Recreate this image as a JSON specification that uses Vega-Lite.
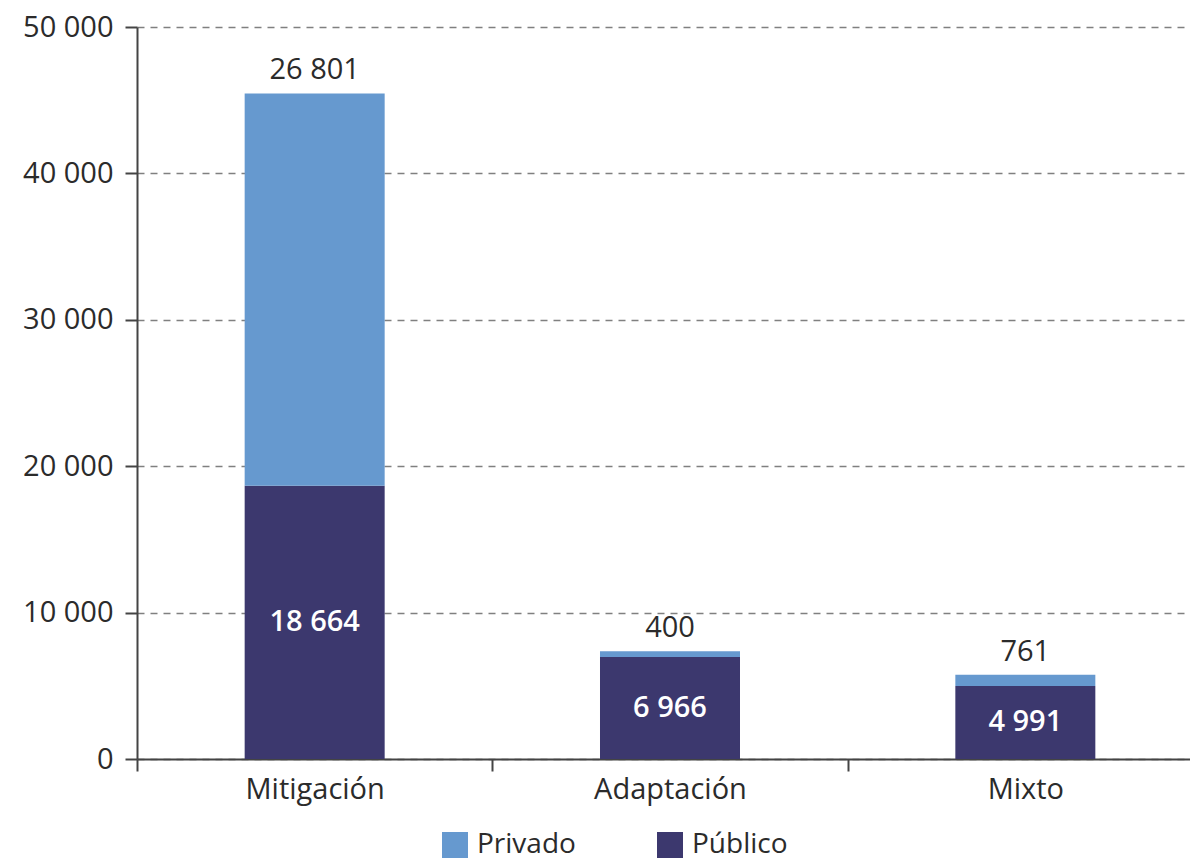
{
  "$schema": "https://vega.github.io/schema/vega-lite/v6.json",
  "width": 1053,
  "height": 732,
  "autosize": {"type": "none"},
  "padding": {"left": 137, "top": 27, "right": 0, "bottom": 103},
  "background": "white",
  "config": {
    "locale": {"number": {"decimal": ",", "thousands": " ", "grouping": [3], "currency": ["", " €"]}},
    "font": "Open Sans",
    "view": {"stroke": null}
  },
  "data": {
    "values": [
      {"categoria": "Mitigación", "tipo": "Público", "valor": 18664},
      {"categoria": "Mitigación", "tipo": "Privado", "valor": 26801},
      {"categoria": "Adaptación", "tipo": "Público", "valor": 6966},
      {"categoria": "Adaptación", "tipo": "Privado", "valor": 400},
      {"categoria": "Mixto", "tipo": "Público", "valor": 4991},
      {"categoria": "Mixto", "tipo": "Privado", "valor": 761}
    ]
  },
  "transform": [
    {"joinaggregate": [{"op": "sum", "field": "valor", "as": "total"}], "groupby": ["categoria"]},
    {"calculate": "datum.valor / 2", "as": "mitad"}
  ],
  "encoding": {
    "x": {
      "field": "categoria",
      "type": "nominal",
      "sort": ["Mitigación", "Adaptación", "Mixto"],
      "scale": {"range": [0, 1066], "paddingInner": 0, "paddingOuter": 0},
      "axis": {
        "title": null,
        "labelAngle": 0,
        "tickBand": "extent",
        "tickSize": 12,
        "tickColor": "#444444",
        "tickWidth": 2,
        "domainColor": "#444444",
        "domainWidth": 2,
        "labelFontSize": 29,
        "labelColor": "#2b2b2b",
        "labelPadding": 4,
        "grid": false
      }
    }
  },
  "layer": [
    {
      "mark": {"type": "bar", "width": {"band": 0.394}},
      "encoding": {
        "y": {
          "field": "valor",
          "type": "quantitative",
          "stack": "zero",
          "scale": {"domain": [0, 50000], "nice": false},
          "axis": {
            "title": null,
            "values": [0, 10000, 20000, 30000, 40000, 50000],
            "format": ",d",
            "domainColor": "#444444",
            "domainWidth": 2,
            "tickColor": "#444444",
            "tickWidth": 2,
            "tickSize": 12,
            "labelFontSize": 29,
            "labelColor": "#2b2b2b",
            "labelPadding": 12,
            "gridColor": "#808080",
            "gridDash": [7, 6],
            "gridWidth": 1.6
          }
        },
        "color": {
          "field": "tipo",
          "type": "nominal",
          "scale": {"domain": ["Privado", "Público"], "range": ["#6699CF", "#3C386E"]},
          "legend": {
            "orient": "none",
            "legendX": 304,
            "legendY": 804,
            "direction": "horizontal",
            "title": null,
            "symbolType": "square",
            "symbolSize": 676,
            "symbolStrokeWidth": 0,
            "labelFontSize": 28,
            "labelColor": "#2b2b2b",
            "labelOffset": 8,
            "columnPadding": 80
          }
        },
        "order": {"field": "tipo", "sort": "descending"}
      }
    },
    {
      "transform": [{"filter": "datum.tipo === 'Privado'"}],
      "mark": {"type": "text", "baseline": "alphabetic", "dy": -14, "fontSize": 29, "color": "#2b2b2b"},
      "encoding": {
        "y": {"field": "total", "type": "quantitative"},
        "text": {"field": "valor", "type": "quantitative", "format": ",d"}
      }
    },
    {
      "transform": [{"filter": "datum.tipo === 'Público'"}],
      "mark": {"type": "text", "baseline": "middle", "fontSize": 29, "fontWeight": 600, "color": "white"},
      "encoding": {
        "y": {"field": "mitad", "type": "quantitative"},
        "text": {"field": "valor", "type": "quantitative", "format": ",d"}
      }
    }
  ]
}
